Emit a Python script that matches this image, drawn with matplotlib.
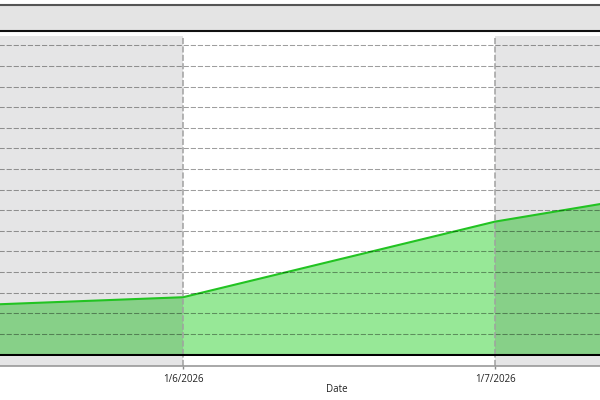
import matplotlib
matplotlib.use('Agg')
import matplotlib.pyplot as plt
import matplotlib.dates as mdates
import datetime as dt

# data
dates = [dt.date(2026, 1, 5), dt.date(2026, 1, 6), dt.date(2026, 1, 7), dt.date(2026, 1, 8)]
values = [2.2, 2.78, 6.45, 8.98]
tick_dates = [dt.date(2026, 1, 6), dt.date(2026, 1, 7)]
tick_labels = ['1/6/2026', '1/7/2026']
band_days = [(dt.date(2026, 1, 4), dt.date(2026, 1, 6)), (dt.date(2026, 1, 7), dt.date(2026, 1, 9))]
x_label = 'Date'

plt.rcParams['font.family'] = ['Open Sans', 'DejaVu Sans']

W, H = 600, 400
fig = plt.figure(figsize=(6, 4), dpi=100)

def px_box(x0, y0, x1, y1):
    return [x0 / W, 1 - y1 / H, (x1 - x0) / W, (y1 - y0) / H]

xs = mdates.date2num(dates)
d6 = mdates.date2num(tick_dates[0])
day_px = 312.0
ax_l, ax_r = -60, 734
xlim = (d6 + (ax_l - 183) / day_px, d6 + (ax_r - 183) / day_px)

# top box
top = fig.add_axes(px_box(-10, 4.5, 610, 31))
top.set_facecolor('#e4e4e4')
top.set_xticks([]); top.set_yticks([])
for s in ['left', 'right']:
    top.spines[s].set_visible(False)
top.spines['top'].set_color('#555555'); top.spines['top'].set_linewidth(1.5)
top.spines['bottom'].set_color('#111111'); top.spines['bottom'].set_linewidth(1.5)

# main plot
ax = fig.add_axes(px_box(ax_l, 36, ax_r, 354.5))
ax.set_xlim(*xlim)
ax.set_ylim(0, 15.46)
ax.fill_between(xs, values, 0, color='#97e897', zorder=1, lw=0)
ax.plot(xs, values, color='#22c322', lw=1.5, zorder=3)
for a, b in band_days:
    ax.axvspan(mdates.date2num(a), mdates.date2num(b), color='#00000a', alpha=0.1, lw=0, zorder=2)
for y in range(1, 16):
    ax.axhline(y, color='black', alpha=0.38, lw=0.75, ls=(0, (5, 1.8)), zorder=4)
for d in tick_dates:
    ax.axvline(mdates.date2num(d), color='#a0a0a0', lw=1.1, ls=(0, (4, 1.5)), zorder=4)
ax.set_xticks([]); ax.set_yticks([])
for s in ['left', 'right', 'top']:
    ax.spines[s].set_visible(False)
ax.spines['bottom'].set_color('black'); ax.spines['bottom'].set_linewidth(1.5)
ax.spines['bottom'].set_zorder(5)

# strip under the axis
strip = fig.add_axes(px_box(ax_l, 355.5, ax_r, 366))
strip.set_xlim(*xlim)
strip.set_ylim(0, 1)
for a, b in band_days:
    strip.axvspan(mdates.date2num(a), mdates.date2num(b), color='#00000a', alpha=0.1, lw=0)
for d in tick_dates:
    strip.axvline(mdates.date2num(d), color='#a0a0a0', lw=1.1, ls=(0, (4, 1.5)))
strip.set_yticks([])
strip.set_xticks(mdates.date2num(tick_dates))
strip.set_xticklabels(tick_labels, fontsize=7, color='#222222')
strip.tick_params(axis='x', length=2.5, width=1, color='#888888', pad=3)
for s in ['left', 'right', 'top']:
    strip.spines[s].set_visible(False)
strip.spines['bottom'].set_color('#999999'); strip.spines['bottom'].set_linewidth(1.2)

fig.text(337 / W, 1 - 390 / H, x_label, ha='center', va='center', fontsize=7, color='#222222')

fig.savefig('out.png', dpi=100)
